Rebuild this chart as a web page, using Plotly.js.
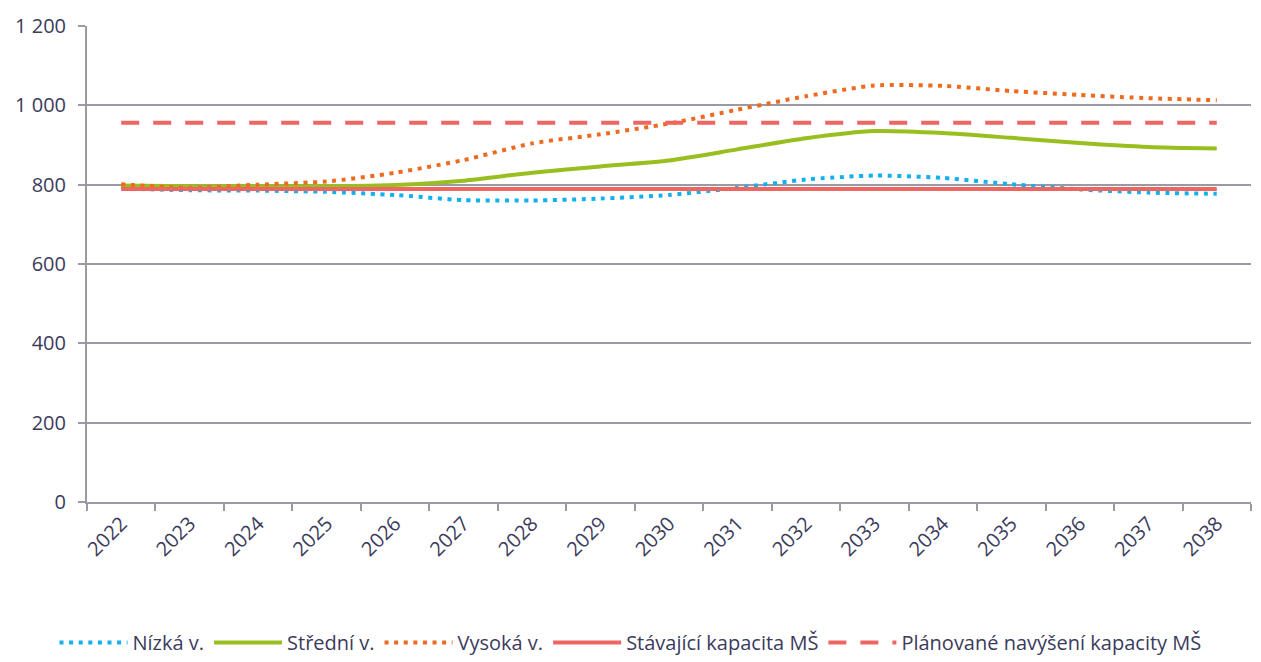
<!DOCTYPE html>
<html lang="cs">
<head>
    <meta charset="UTF-8">
    <style>
        html, body, #plot {
            height: 100%;
            width: 100%;
            margin: 0;
            padding: 0;
            overflow: hidden;
            background: #ffffff;
        }
    </style>
</head>
<body>
<div id="plot"></div>
<script src="https://cdn.plot.ly/plotly-3.0.1.min.js"></script>
<script>
    const years = ['2022', '2023', '2024', '2025', '2026', '2027', '2028', '2029', '2030',
                   '2031', '2032', '2033', '2034', '2035', '2036', '2037', '2038'];

    const nizka = [790, 786, 785, 782, 774, 761, 760, 765, 774, 792, 813, 823, 817, 801, 788, 780, 777];
    const stredni = [798, 796, 796, 796, 799, 810, 830, 846, 861, 889, 917, 935, 930, 918, 905, 895, 891];
    const vysoka = [801, 792, 800, 808, 830, 862, 904, 927, 954, 989, 1023, 1050, 1049, 1036, 1026, 1018, 1013];
    const stavajici = [789, 789, 789, 789, 789, 789, 789, 789, 789, 789, 789, 789, 789, 789, 789, 789, 789];
    const planovane = [956, 956, 956, 956, 956, 956, 956, 956, 956, 956, 956, 956, 956, 956, 956, 956, 956];

    const textColor = '#3b3b5c';
    const gridColor = '#9a9aa2';
    const fontFamily = '"Open Sans", "Noto Sans", sans-serif';

    function makeTrace(name, y, color, dash, smooth) {
        return {
            x: years,
            y: y,
            type: 'scatter',
            mode: 'lines',
            name: name,
            line: {
                color: color,
                width: 4,
                dash: dash,
                shape: smooth ? 'spline' : 'linear',
                smoothing: 0.6
            },
            hoverinfo: 'x+y+name'
        };
    }

    const data = [
        makeTrace('Nízká v.', nizka, '#12b0ee', '4px,5.6px', true),
        makeTrace('Střední v.', stredni, '#98bf1f', 'solid', true),
        makeTrace('Vysoká v.', vysoka, '#ee6a1f', '4px,5.6px', true),
        makeTrace('Stávající kapacita MŠ', stavajici, '#ee6562', 'solid', false),
        makeTrace('Plánované navýšení kapacity MŠ', planovane, '#ee6562', '18px,14px', false)
    ];

    const layout = {
        width: 1261,
        height: 662,
        margin: {l: 87, r: 10, t: 26, b: 160},
        paper_bgcolor: '#ffffff',
        plot_bgcolor: '#ffffff',
        font: {family: fontFamily, color: textColor, size: 20},
        xaxis: {
            type: 'category',
            tickmode: 'array',
            tickvals: years,
            ticktext: years,
            tickson: 'boundaries',
            ticks: 'outside',
            ticklen: 7,
            tickwidth: 2,
            tickcolor: gridColor,
            showline: true,
            linecolor: gridColor,
            linewidth: 2,
            showgrid: false,
            tickangle: -45,
            tickfont: {family: fontFamily, size: 20, color: textColor},
            range: [-0.5, 16.5]
        },
        yaxis: {
            range: [0, 1200],
            dtick: 200,
            tick0: 0,
            separatethousands: true,
            ticks: 'outside',
            ticklen: 7,
            tickwidth: 2,
            tickcolor: gridColor,
            ticklabelstandoff: 8,
            showline: true,
            linecolor: gridColor,
            linewidth: 2,
            showgrid: true,
            gridcolor: gridColor,
            gridwidth: 2,
            zeroline: false,
            tickfont: {family: fontFamily, size: 20, color: textColor}
        },
        separators: ', ',
        showlegend: true,
        legend: {
            orientation: 'h',
            x: 0.5,
            xanchor: 'center',
            xref: 'container',
            y: -0.014,
            yanchor: 'bottom',
            yref: 'container',
            itemwidth: 68,
            font: {family: fontFamily, size: 20, color: textColor},
            traceorder: 'normal',
            bgcolor: 'rgba(0,0,0,0)'
        }
    };

    Plotly.newPlot('plot', data, layout, {displayModeBar: false});
</script>
</body>
</html>
